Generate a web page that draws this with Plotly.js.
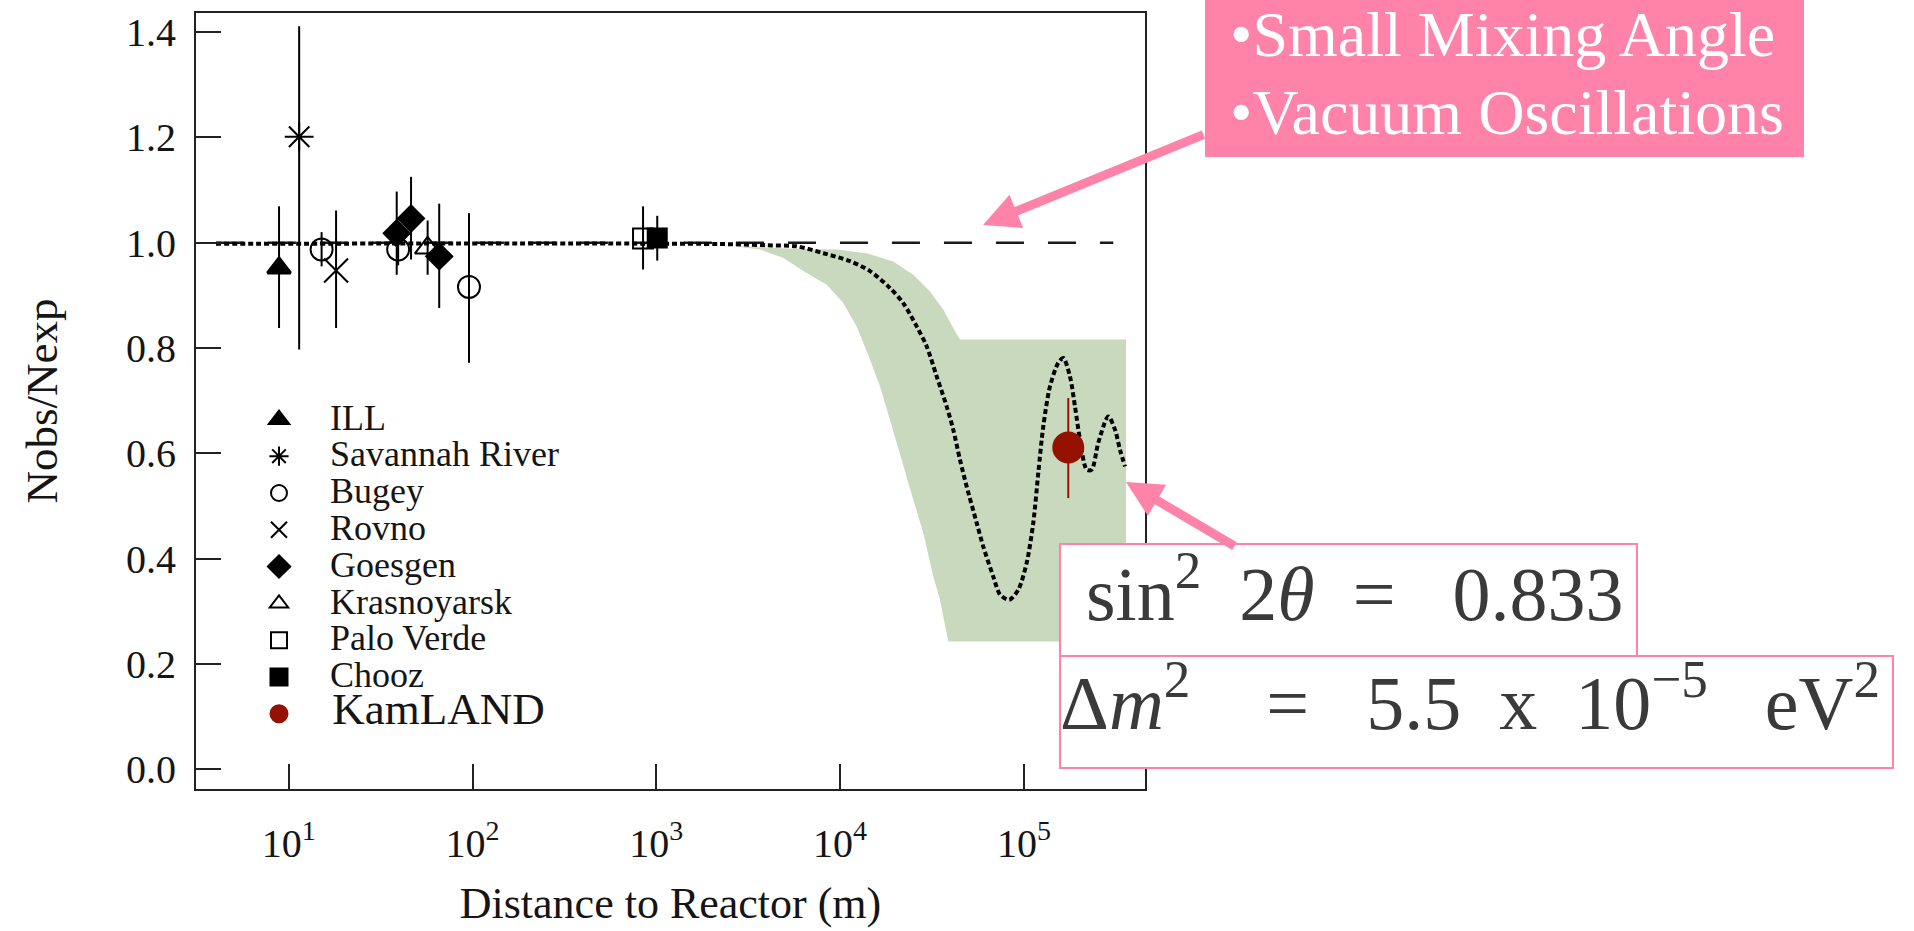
<!DOCTYPE html>
<html>
<head>
<meta charset="utf-8">
<script src="https://cdn.plot.ly/plotly-3.0.1.min.js"></script>
<style>
html,body{margin:0;padding:0;background:#ffffff;}
#chart{width:1914px;height:931px;}
</style>
</head>
<body>
<div id="chart"></div>
<script>
// ---------------- data ----------------
// Reactor experiments: distance (m), Nobs/Nexp, error up, error down
const illDist = [8.86];
const illRatio = [0.952];
const illErrUp = [0.117];
const illErrDn = [0.114];

const savDist = [11.4];
const savRatio = [1.201];
const savErrUp = [0.210];
const savErrDn = [0.404];

const bugeyDist = [15.1, 39.4, 95.7];
const bugeyRatio = [0.987, 0.987, 0.916];
const bugeyErrUp = [0.033, 0.030, 0.140];
const bugeyErrDn = [0.032, 0.030, 0.144];

const rovnoDist = [18.1];
const rovnoRatio = [0.947];
const rovnoErrUp = [0.114];
const rovnoErrDn = [0.109];

const goesgenDist = [38.7, 46.3, 65.9];
const goesgenRatio = [1.018, 1.046, 0.974];
const goesgenErrUp = [0.079, 0.079, 0.100];
const goesgenErrDn = [0.079, 0.078, 0.098];

const krasDist = [57.0];
const krasRatio = [0.990];
const krasErrUp = [0.052];
const krasErrDn = [0.051];

const paloDist = [847];
const paloRatio = [1.008];
const paloErrUp = [0.061];
const paloErrDn = [0.059];

const choozDist = [1012];
const choozRatio = [1.009];
const choozErrUp = [0.042];
const choozErrDn = [0.043];

const kamDist = [174400];
const kamRatio = [0.611];
const kamErrUp = [0.094];
const kamErrDn = [0.096];

// Oscillation curve (dotted)
const curveDist = [4.02, 1187, 2624, 4000, 5808, 8102, 11320, 14546, 18680, 22075,
  26115, 29600, 33545, 38019, 41290, 44896, 48839, 55364, 60137, 68163,
  74130, 83300, 93230, 103560, 112500, 119780, 127500, 138680, 153860, 163830,
  178150, 189670, 201980, 219660, 233800, 254000, 287900, 313100, 333300, 354900];
const curveRatio = [0.998, 0.998, 0.997, 0.995, 0.993, 0.980, 0.965, 0.946, 0.914, 0.885,
  0.841, 0.803, 0.746, 0.689, 0.645, 0.588, 0.537, 0.468, 0.423, 0.366,
  0.332, 0.322, 0.341, 0.392, 0.468, 0.563, 0.651, 0.727, 0.772, 0.781,
  0.746, 0.689, 0.626, 0.569, 0.569, 0.620, 0.670, 0.645, 0.607, 0.575];

// Allowed region band (green)
const bandUpperDist = [2624, 3988, 6050, 9583, 13954, 19470, 25012, 30840, 36430, 41290, 44900, 359400];
const bandUpperRatio = [0.993, 0.990, 0.988, 0.987, 0.980, 0.964, 0.939, 0.9075, 0.873, 0.838, 0.816, 0.816];
const bandLowerDist = [2624, 3666, 4910, 6581, 8456, 10410, 12310, 14546, 16490, 18680, 21180, 25010, 28360, 32150, 34960, 38790, 359400];
const bandLowerRatio = [0.993, 0.987, 0.971, 0.9425, 0.920, 0.8855, 0.841, 0.778, 0.727, 0.664, 0.601, 0.512, 0.449, 0.366, 0.322, 0.243, 0.243];

// No-oscillation reference line
const refDist = [4.02, 306500];
const refRatio = [1.0, 1.0];

// Axis ticks
const xTickVals = [10, 100, 1000, 10000, 100000];
const xTickText = ['10<sup>1</sup>', '10<sup>2</sup>', '10<sup>3</sup>', '10<sup>4</sup>', '10<sup>5</sup>'];
const yTickVals = [0.0, 0.2, 0.4, 0.6, 0.8, 1.0, 1.2, 1.4];
const yTickText = ['0.0', '0.2', '0.4', '0.6', '0.8', '1.0', '1.2', '1.4'];

// Texts
const xTitle = 'Distance to Reactor (m)';
const yTitle = 'Nobs/Nexp';
const calloutLines = ['\u2022Small Mixing Angle', '\u2022Vacuum Oscillations'];
const formula1 = 'sin<sup>2</sup>\u00a0\u00a02<i>\u03b8</i>\u00a0\u00a0=\u00a0\u00a0\u00a00.833';
const formula2 = '\u0394<i>m</i><sup>2</sup>\u00a0\u00a0\u00a0\u00a0=\u00a0\u00a0\u00a05.5\u00a0\u00a0x\u00a0\u00a010<sup>\u22125</sup>\u00a0\u00a0\u00a0eV<sup>2</sup>';

// ---------------- layout helpers ----------------
const M = {l: 196, r: 769, t: 13, b: 142};
const W = 1914, H = 931;
const PW = W - M.l - M.r, PH = H - M.t - M.b;
const px2x = p => (p - M.l) / PW;
const py2y = p => (H - M.b - p) / PH;

const FONT = 'Liberation Serif, Times New Roman, serif';
const PINK = '#FF82A9';
const INK = '#151515';

function legendName(t, size) {
  return '<span style="font-size:' + size + 'px">\u00a0' + t + '</span>';
}

function expTrace(name, xs, ys, up, dn, symbol, filled, size, color, nameSize) {
  const c = color || '#000000';
  return {
    type: 'scatter', mode: 'markers', x: xs, y: ys,
    name: legendName(name, nameSize || 36),
    marker: {
      symbol: symbol, size: filled ? size - 3 : size, color: c,
      line: {color: c, width: filled ? 3 : 2}
    },
    error_y: {type: 'data', symmetric: false, array: up, arrayminus: dn,
              color: c, thickness: 2, width: 0},
    cliponaxis: false
  };
}

// band polygon: upper boundary left->right, lower boundary right->left
const bandX = bandUpperDist.concat(bandLowerDist.slice().reverse());
const bandY = bandUpperRatio.concat(bandLowerRatio.slice().reverse());

const traces = [
  {type: 'scatter', mode: 'lines', x: bandX, y: bandY, fill: 'toself',
   fillcolor: '#C9D9BE', line: {width: 0, color: '#C9D9BE'}, showlegend: false, hoverinfo: 'skip'},
  {type: 'scatter', mode: 'lines', x: refDist, y: refRatio,
   line: {color: '#1a1a1a', width: 2.5, dash: '28px,24px'}, showlegend: false, hoverinfo: 'skip'},
  {type: 'scatter', mode: 'lines', x: curveDist, y: curveRatio,
   line: {color: '#000000', width: 4, dash: '5px,3px', shape: 'spline', smoothing: 0.8},
   showlegend: false, hoverinfo: 'skip'},
  expTrace('ILL', illDist, illRatio, illErrUp, illErrDn, 'triangle-up', true, 23),
  expTrace('Savannah River', savDist, savRatio, savErrUp, savErrDn, 'asterisk-open', false, 24),
  expTrace('Bugey', bugeyDist, bugeyRatio, bugeyErrUp, bugeyErrDn, 'circle-open', false, 22),
  expTrace('Rovno', rovnoDist, rovnoRatio, rovnoErrUp, rovnoErrDn, 'x-thin-open', false, 24),
  expTrace('Goesgen', goesgenDist, goesgenRatio, goesgenErrUp, goesgenErrDn, 'diamond', true, 22),
  expTrace('Krasnoyarsk', krasDist, krasRatio, krasErrUp, krasErrDn, 'triangle-up-open', false, 22),
  expTrace('Palo Verde', paloDist, paloRatio, paloErrUp, paloErrDn, 'square-open', false, 20),
  expTrace('Chooz', choozDist, choozRatio, choozErrUp, choozErrDn, 'square', true, 21),
  expTrace('KamLAND', kamDist, kamRatio, kamErrUp, kamErrDn, 'circle', true, 32, '#961200', 45)
];

const axisCommon = {
  showline: true, linecolor: '#222222', linewidth: 2, mirror: true,
  ticks: 'inside', ticklen: 25, tickwidth: 2, tickcolor: '#222222',
  showgrid: false, zeroline: false,
  tickfont: {family: FONT, size: 40, color: INK},
  tickmode: 'array', automargin: false
};

const layout = {
  width: W, height: H,
  margin: M,
  paper_bgcolor: '#ffffff', plot_bgcolor: '#ffffff',
  font: {family: FONT, color: INK},
  showlegend: true,
  legend: {
    x: px2x(237), y: py2y(396), xanchor: 'left', yanchor: 'top',
    bgcolor: 'rgba(0,0,0,0)', borderwidth: 0,
    font: {family: FONT, size: 26, color: INK},
    itemwidth: 74, tracegroupgap: 0
  },
  xaxis: Object.assign({}, axisCommon, {
    type: 'log', range: [0.4956, 5.659],
    tickvals: xTickVals, ticktext: xTickText,
    ticklabelstandoff: 18,
    title: {text: xTitle, font: {family: FONT, size: 44, color: INK}, standoff: 22}
  }),
  yaxis: Object.assign({}, axisCommon, {
    type: 'linear', range: [-0.0372, 1.436],
    tickvals: yTickVals, ticktext: yTickText,
    ticklabelstandoff: 10,
    title: {text: yTitle, font: {family: FONT, size: 45, color: INK}, standoff: 54}
  }),
  shapes: [
    {type: 'rect', xref: 'paper', yref: 'paper', layer: 'above',
     x0: px2x(1205), x1: px2x(1804), y0: py2y(157), y1: py2y(0),
     fillcolor: PINK, line: {width: 0}},
    {type: 'rect', xref: 'paper', yref: 'paper', layer: 'above',
     x0: px2x(1060), x1: px2x(1637), y0: py2y(656), y1: py2y(544),
     fillcolor: '#ffffff', line: {color: PINK, width: 2}},
    {type: 'rect', xref: 'paper', yref: 'paper', layer: 'above',
     x0: px2x(1060), x1: px2x(1893), y0: py2y(768), y1: py2y(656),
     fillcolor: '#ffffff', line: {color: PINK, width: 2}}
  ],
  annotations: [
    {xref: 'paper', yref: 'paper', x: px2x(1228), y: py2y(34), xanchor: 'left', yanchor: 'middle',
     text: calloutLines[0], showarrow: false, font: {family: FONT, size: 64, color: '#ffffff'}},
    {xref: 'paper', yref: 'paper', x: px2x(1228), y: py2y(112), xanchor: 'left', yanchor: 'middle',
     text: calloutLines[1], showarrow: false, font: {family: FONT, size: 64, color: '#ffffff'}},
    {xref: 'paper', yref: 'paper', x: px2x(1084), y: py2y(588), xanchor: 'left', yanchor: 'middle',
     text: formula1, showarrow: false, font: {family: FONT, size: 76, color: '#3a3a3a'}},
    {xref: 'paper', yref: 'paper', x: px2x(1058), y: py2y(697), xanchor: 'left', yanchor: 'middle',
     text: formula2, showarrow: false, font: {family: FONT, size: 76, color: '#3a3a3a'}},
    {xref: 'paper', yref: 'paper', x: px2x(983), y: py2y(225), ax: 222, ay: -91,
     text: '', showarrow: true, arrowhead: 2, arrowsize: 0.8, arrowwidth: 9, arrowcolor: PINK,
     standoff: 0, startstandoff: 0},
    {xref: 'paper', yref: 'paper', x: px2x(1126), y: py2y(482), ax: 110, ay: 65,
     text: '', showarrow: true, arrowhead: 2, arrowsize: 0.8, arrowwidth: 9, arrowcolor: PINK,
     standoff: 0, startstandoff: 0}
  ]
};

Plotly.newPlot('chart', traces, layout, {displayModeBar: false, staticPlot: true});
</script>
</body>
</html>
